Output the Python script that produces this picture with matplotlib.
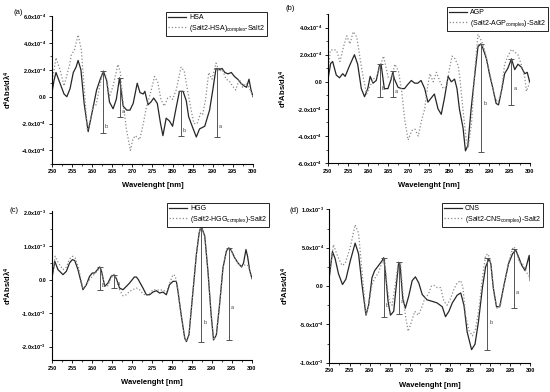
import numpy as np
import matplotlib
matplotlib.use('Agg')
import matplotlib.pyplot as plt
from matplotlib.ticker import MultipleLocator, AutoMinorLocator, FuncFormatter

plt.rcParams['font.family'] = ['Liberation Sans', 'DejaVu Sans']
plt.rcParams['mathtext.default'] = 'regular'
plt.rcParams['axes.unicode_minus'] = False

# values, (wavelength nm, signal in units of 1e-4)
hsa = [(250, 0.3), (250.5, 1.2), (251, 1.8), (252, 1.0), (253, 0.2), (253.7, 0.0), (254.5, 0.6),
       (255.3, 1.8), (256, 2.2), (256.5, 2.7), (257.2, 2.0), (258, -0.5), (259, -2.6), (260.3, -0.7),
       (261.1, 0.5), (262, 1.3), (262.8, 1.9), (263.6, 1.2), (264.3, -0.4), (265.2, -0.9), (266, -0.2),
       (266.8, 1.4), (267.7, -0.7), (268.6, -1.0), (269.4, -1.0), (270.2, -0.5), (271.2, 1.0),
       (271.9, 0.3), (272.7, 0.2), (273.1, 0.4), (273.9, -0.6), (274.6, -0.4), (275.3, -0.1),
       (276.2, -0.5), (277, -2.0), (277.6, -2.9), (278.4, -1.6), (279.2, -1.8), (280, -2.2),
       (280.9, -0.8), (281.7, 0.4), (282.6, 0.4), (283.4, -0.3), (284, -1.5), (285, -2.3),
       (285.9, -3.0), (286.7, -2.4), (288, -2.2), (289.2, -1.0), (290, 0.5), (290.8, 2.1),
       (291.5, 2.0), (292.3, 2.1), (293, 1.8), (293.8, 1.7), (294.6, 1.8), (295.4, 1.5),
       (296.2, 1.3), (297, 1.0), (297.8, 0.8), (298.4, 0.7), (299, 1.3), (299.5, 0.5), (300, 0.0)]
hsa_cx = [(250, 1.0), (251, 2.9), (252, 2.0), (253, 0.8), (254.4, 2.4), (254.8, 3.1), (255.6, 3.5),
          (256.5, 4.6), (257.3, 3.5), (258.1, 0.3), (258.8, -2.5), (259.4, -2.0), (260.2, -0.7),
          (261, -0.6), (261.9, 0.8), (262.7, 1.9), (263.5, 1.5), (264.3, 0.0), (265.2, 0.8),
          (266.4, 2.4), (267, 1.8), (267.6, -0.2), (268.5, -2.4), (269.5, -4.0), (270.1, -3.2),
          (270.7, -2.9), (271.8, -3.2), (272.6, -2.2), (273.4, -0.9), (274.7, 0.5), (275.5, 1.5),
          (276.3, 1.1), (277.1, -0.2), (277.9, -0.7), (278.8, -0.1), (279.4, 0.0), (280, -0.2),
          (280.9, 0.5), (282.1, 2.2), (282.9, 1.9), (283.7, 0.5), (284.5, -0.8), (285.3, -2.0),
          (286.1, -2.0), (287, -1.2), (287.5, -1.3), (288.2, -0.2), (289, 1.8), (289.8, 1.3),
          (290.8, 2.5), (291.6, 1.9), (292.4, 2.0), (293.3, 1.3), (294, 1.2), (294.9, 0.8),
          (295.7, 0.5), (296.6, 1.3), (297.4, 0.7), (298.2, 1.0), (299, 0.7), (300, 0.0)]

agp = [(250, 0.1), (250.7, 1.35), (251.2, 1.5), (252.1, 0.5), (252.9, 0.3), (253.7, 0.6), (254.3, 0.4),
       (255.4, 1.2), (256.6, 2.0), (257.4, 1.3), (258.3, -0.5), (259.1, -1.1), (259.9, -0.5),
       (260.5, 0.4), (261.2, -0.1), (262, 0.1), (262.8, 1.2), (263.2, 1.3), (264, -0.5), (264.9, -0.5),
       (265.7, 0.2), (266.1, 0.7), (266.5, 0.2), (267.4, -0.4), (268.2, -0.5), (269, -0.5),
       (269.8, -0.2), (270.7, 0.1), (271.5, -0.1), (272.3, -0.1), (273.1, 0.1), (274, -0.5),
       (274.8, -1.5), (275.6, -1.2), (276.4, -0.9), (277.3, -2.0), (278.1, -2.4), (278.9, -1.2),
       (279.8, 0.4), (280.6, 0.0), (281.4, 0.2), (282, -0.5), (282.6, -2.0), (283.5, -3.4),
       (284.1, -5.1), (284.7, -4.7), (285.5, -2.0), (286.4, 0.5), (287.2, 2.6), (287.9, 2.8),
       (288.4, 2.5), (289.3, 1.7), (290.1, 0.5), (290.9, -0.5), (291.7, -1.6), (292.3, -1.7),
       (293, -0.7), (293.8, 0.6), (294.6, 1.0), (295.5, 1.7), (296.3, 0.9), (297.1, 1.3),
       (297.9, 1.1), (298.8, 0.6), (299.4, 0.7), (300, 0.0)]
agp_cx = [(250, 0.2), (250.6, 2.3), (251.4, 2.4), (252.2, 2.3), (253, 1.5), (253.9, 2.6), (254.7, 3.4),
          (255.5, 2.8), (256.3, 3.7), (257.2, 3.3), (258, 1.7), (258.8, 0.3), (259.6, -0.9),
          (260.5, -0.3), (261.3, 0.2), (262.1, 0.4), (262.9, 1.1), (263.8, 1.9), (265, 0.3),
          (265.8, 0.3), (266.6, 1.3), (267.5, 0.8), (268.3, -0.7), (269.1, -2.9), (269.9, -4.3),
          (270.8, -3.6), (271.6, -3.5), (272.4, -4.0), (273.2, -2.9), (274, -2.0), (274.7, -0.4),
          (275.3, 0.6), (276.1, 0.0), (276.9, 0.7), (277.8, 0.0), (278.6, -0.5), (279.4, -0.4),
          (280.2, 1.1), (280.8, 1.9), (281.5, 1.7), (282.3, 1.2), (282.7, 0.3), (283.5, -2.1),
          (284.3, -4.3), (284.8, -4.8), (285.6, -3.1), (286.4, 0.8), (287.2, 3.5), (288.1, 3.0),
          (288.9, 2.3), (289.7, 1.2), (290.5, 0.1), (291.4, -1.2), (292.2, -1.5), (293, -0.7),
          (293.8, 1.3), (294.6, 1.9), (295.5, 2.4), (296.3, 2.2), (297.1, 2.0), (297.9, 1.3),
          (298.8, 0.3), (299.2, -0.7), (299.8, -0.2), (300, 0.0)]

hgg = [(250, 0.5), (250.7, 5.5), (251.5, 3.0), (252.75, 1.5), (253.6, 2.5), (254.4, 5.0), (255.1, 6.0),
       (255.7, 5.7), (256.5, 3.0), (257.75, -3.0), (258.6, -1.5), (259.4, 1.0), (260.1, 2.0),
       (260.7, 2.0), (261.9, 3.8), (262.3, 3.0), (263.2, -2.0), (264, -1.0), (264.8, 1.0),
       (265.5, 1.4), (266.1, 0.3), (266.9, -2.5), (267.75, -3.0), (268.6, -2.0), (269.4, -1.0),
       (270.6, 0.8), (271.1, 0.8), (271.6, 0.0), (272.75, -2.5), (273.6, -4.5), (274.4, -4.5),
       (275.25, -3.7), (276.1, -3.3), (276.9, -4.0), (277.75, -3.7), (278.6, -4.5), (279.4, -1.5),
       (280.25, -0.5), (281.1, -0.5), (281.5, -3.5), (282.3, -10.5), (283.2, -17.5), (283.6, -18.5),
       (284.25, -16.5), (285.25, -3.5), (286.1, 7.5), (286.8, 14.0), (287.3, 16.0), (288.2, 13.0),
       (289, 2.5), (289.8, -10.5), (290.4, -18.0), (291.1, -16.5), (291.9, -7.5), (292.75, 3.5),
       (293.6, 8.5), (294.2, 9.5), (294.8, 8.8), (295.7, 6.5), (296.5, 5.0), (297.4, 3.8),
       (297.9, 5.0), (298.5, 9.0), (298.9, 7.0), (299.4, 3.0), (300, 0.3)]
hgg_cx = [(250, 0.8), (250.8, 7.0), (251.6, 5.0), (252.75, 3.0), (253.6, 3.8), (254.4, 6.2), (255.2, 7.0),
          (255.8, 6.5), (256.6, 3.8), (257.75, -2.8), (258.6, -1.5), (259.4, 0.0), (260.1, 1.0),
          (260.7, 1.8), (261.5, 2.8), (261.9, 3.8), (262.3, 3.0), (263.2, -2.0), (264, -1.8),
          (264.8, 0.5), (265.5, 1.6), (266.1, 0.5), (266.9, -3.0), (267.75, -4.8), (268.6, -4.5),
          (269.4, -3.5), (270.2, -3.0), (271.1, -2.5), (271.9, -3.0), (272.75, -4.2), (273.6, -4.8),
          (274.4, -4.2), (275.25, -3.0), (276.1, -3.0), (276.9, -3.2), (277.75, -3.0), (278.6, -3.8),
          (279.4, -1.0), (280.25, 1.5), (280.8, 1.2), (281.5, -3.0), (282.3, -10.5), (283.2, -17.5),
          (283.6, -18.5), (284.25, -16.5), (285.25, -3.5), (286.1, 7.5), (286.8, 14.0), (287.3, 16.0),
          (288.2, 13.0), (289, 2.5), (289.8, -10.5), (290.4, -18.0), (291.1, -16.5), (291.9, -7.5),
          (292.75, 3.5), (293.6, 8.5), (294.2, 9.5), (294.8, 8.8), (295.7, 6.5), (296.5, 5.0),
          (297.4, 3.8), (297.9, 4.3), (298.5, 4.5), (299, 4.2), (299.4, 3.0), (300, 0.3)]

cns = [(250, 1.3), (250.75, 4.5), (251.4, 3.6), (252.25, 1.6), (253.25, 0.2), (254.1, 0.9), (255.2, 3.3),
       (256.4, 5.6), (257.25, 4.2), (258.1, 0.2), (259.1, -3.8), (259.75, -2.5), (260.6, 1.1),
       (261.25, 2.0), (262.25, 2.7), (263.1, 3.3), (263.5, 3.7), (263.9, 2.0), (264.6, -2.0),
       (265.2, -3.8), (266, -3.3), (266.6, -0.2), (267.25, 3.1), (267.6, 2.7), (268.25, -1.6),
       (268.9, -2.9), (269.75, -1.3), (270.6, 0.7), (271.4, 1.2), (272.25, 0.4), (273.1, -1.1),
       (274.3, -1.8), (275.6, -2.0), (276.8, -2.2), (278.1, -2.7), (278.9, -4.0), (279.75, -3.3),
       (280.6, -2.2), (281.8, -1.2), (282.7, -0.9), (283.5, -2.5), (284.3, -6.0), (285.4, -8.3),
       (286.25, -7.6), (287.1, -4.7), (288.1, -0.2), (288.9, 2.5), (289.75, 3.6), (290.2, 2.9),
       (290.8, -0.2), (291.6, -2.7), (292.4, -2.7), (293.5, 0.2), (294.6, 2.9), (295.6, 4.2),
       (296.4, 4.7), (297.1, 3.8), (297.9, 2.7), (298.75, 2.0), (299.3, 3.1), (299.75, 4.0), (300, 0.7)]
cns_cx = [(250, 1.6), (251, 5.4), (251.8, 4.2), (253.1, 2.7), (253.9, 2.9), (255.2, 5.1), (256.4, 8.0),
          (257.25, 6.9), (258.1, 2.0), (259.1, -3.8), (259.75, -2.5), (260.6, 0.2), (261.4, 1.1),
          (262.25, 1.8), (263.1, 3.1), (263.75, 3.6), (264.3, 0.2), (264.9, -2.0), (265.6, -2.5),
          (266.4, 0.2), (267.1, 2.9), (267.7, 3.1), (268.25, -0.7), (268.9, -3.8), (269.6, -5.9),
          (270.4, -4.7), (271.25, -3.3), (272.1, -3.8), (272.9, -2.9), (273.75, -1.6), (274.6, -1.1),
          (275.4, 0.0), (276, 0.1), (276.8, -0.2), (277.7, -0.2), (278.5, -2.0), (279.3, -2.5),
          (280.2, -1.6), (281, -0.4), (281.8, 0.4), (282.7, 0.7), (283.25, -0.2), (283.9, -3.8),
          (284.75, -5.8), (285.6, -6.5), (286.4, -5.6), (287.25, -2.9), (288.1, 1.1), (288.9, 4.0),
          (289.5, 4.2), (290.2, 2.9), (291, -1.1), (291.75, -2.9), (292.6, -2.5), (293.5, 0.2),
          (294.6, 3.1), (295.75, 5.1), (296.4, 4.9), (297.25, 3.1), (298.1, 2.9), (298.9, 2.0),
          (299.3, 1.6), (300, 1.1)]

# a/b bars: (x, top, bottom, letter, letter height), units 1e-4
bars_a = [(262.7, 1.9, -2.7, 'b', -2.2), (266.8, 1.4, -1.5, 'a', -1.1),
          (282.0, 0.4, -2.9, 'b', -2.5), (291.0, 2.1, -3.0, 'a', -2.2)]
bars_b = [(262.9, 1.3, -1.1, 'b', -0.5), (266.2, 0.8, -1.1, 'a', -0.7),
          (288.0, 2.8, -5.2, 'b', -1.6), (295.5, 1.7, -1.7, 'a', -0.5)]
bars_c = [(262.0, 3.8, -3.2, 'b', -1.8), (265.6, 1.4, -2.5, 'a', -1.2),
          (287.3, 16.0, -18.5, 'b', -12.7), (294.2, 9.5, -18.0, 'a', -8.3)]
bars_d = [(263.5, 3.7, -4.0, 'b', -2.6), (267.3, 3.2, -3.7, 'a', -2.0),
          (289.3, 3.6, -8.3, 'b', -4.8), (296.0, 4.8, -2.8, 'a', -0.9)]

panels = [
    dict(tag='(a)', rect=[0.0945, 0.582, 0.3655, 0.377], ylim=(-5e-4, 6e-4), major=2e-4,
         solid=hsa, dot=hsa_cx, bars=bars_a, names=['HSA', '(Salt2-HSA)$_{complex}$-Salt2'],
         leg=(166, 12), tagpos=(13, 12)),
    dict(tag='(b)', rect=[0.596, 0.584, 0.367, 0.38], ylim=(-6e-4, 5e-4), major=2e-4,
         solid=agp, dot=agp_cx, bars=bars_b, names=['AGP', '(Salt2-AGP$_{complex}$)-Salt2'],
         leg=(447, 7), tagpos=(285, 8)),
    dict(tag='(c)', rect=[0.0945, 0.0816, 0.3636, 0.38], ylim=(-2.4e-3, 2.05e-3), major=1e-3,
         solid=hgg, dot=hgg_cx, bars=bars_c, names=['HGG', '(Salt2-HGG$_{complex}$)-Salt2'],
         leg=(167, 203), tagpos=(10, 211)),
    dict(tag='(d)', rect=[0.599, 0.0748, 0.365, 0.391], ylim=(-1e-3, 1e-3), major=5e-4,
         solid=cns, dot=cns_cx, bars=bars_d, names=['CNS', '(Salt2-CNS$_{complex}$)-Salt2'],
         leg=(442, 203), tagpos=(290, 211)),
]
scale = 1e-4
W, H = 550, 392


def sci(v, pos):
    if abs(v) < 1e-12:
        return '0.0'
    e = int(np.floor(np.log10(abs(v)) + 1e-9))
    return '%.1fx10$^{%d}$' % (v / 10.0 ** e, e)


fig = plt.figure(figsize=(5.5, 3.92), dpi=100)
for p in panels:
    ax = fig.add_axes(p['rect'])
    sx, sy = zip(*p['solid'])
    dx, dy = zip(*p['dot'])
    ax.plot(sx, np.array(sy) * scale, color='#262626', lw=0.9, label=p['names'][0])
    ax.plot(dx, np.array(dy) * scale, color='#8a8a8a', lw=0.9, ls=':', label=p['names'][1])
    for bx, top, bot, let, ly in p['bars']:
        ax.plot([bx, bx], [bot * scale, top * scale], color='#555555', lw=0.7,
                marker='_', ms=4, mew=0.7)
        ax.text(bx + 0.5, ly * scale, let, fontsize=4, color='#444444', va='center')
    ax.set_xlim(250, 300)
    ax.set_ylim(*p['ylim'])
    ax.xaxis.set_major_locator(MultipleLocator(5))
    ax.xaxis.set_minor_locator(AutoMinorLocator(2))
    ax.yaxis.set_major_locator(MultipleLocator(p['major']))
    ax.yaxis.set_minor_locator(AutoMinorLocator(2))
    ax.yaxis.set_major_formatter(FuncFormatter(sci))
    ax.spines['top'].set_visible(False)
    ax.spines['right'].set_visible(False)
    for s in ['left', 'bottom']:
        ax.spines[s].set_linewidth(0.8)
    ax.tick_params(which='major', direction='out', length=2.5, width=0.6, pad=1.5)
    ax.tick_params(which='minor', direction='out', length=1.5, width=0.5)
    for lab in ax.get_xticklabels() + ax.get_yticklabels():
        lab.set_fontsize(4)
        lab.set_fontweight('bold')
    ax.set_xlabel('Wavelenght [nm]', fontsize=5.5, fontweight='bold')
    ax.xaxis.set_label_coords(0.5, -0.125)
    ax.set_ylabel(r'd$^4$Abs/d$\lambda^4$', fontsize=5.5, fontweight='bold')
    ax.yaxis.set_label_coords(-0.19, 0.5)
    lx, ly = p['leg']
    ax.legend(loc='upper left', bbox_to_anchor=(lx / W, 1 - ly / H), bbox_transform=fig.transFigure,
              fontsize=5, frameon=True, fancybox=False, edgecolor='black', framealpha=1,
              borderaxespad=0, borderpad=0.3, handlelength=2.6, handletextpad=0.4,
              labelspacing=0.3).get_frame().set_linewidth(0.6)
    tx, ty = p['tagpos']
    fig.text(tx / W, 1 - ty / H, p['tag'], fontsize=5.5, va='center')

fig.savefig('out.png', dpi=100)
